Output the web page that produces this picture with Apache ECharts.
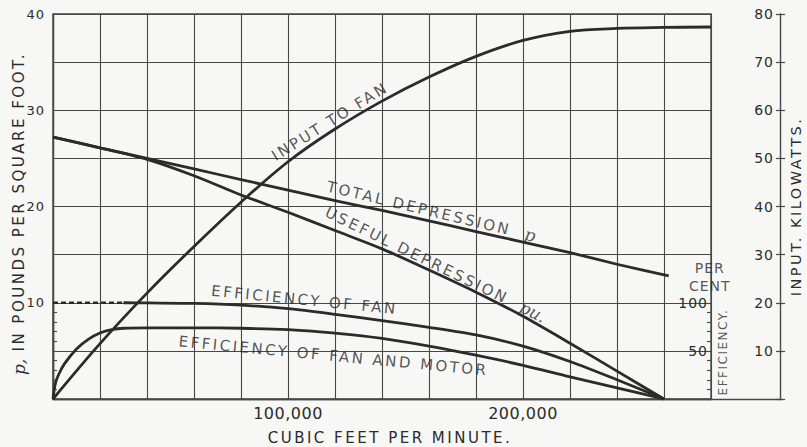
<!DOCTYPE html>
<html>
<head>
<meta charset="utf-8">
<script src="https://cdn.jsdelivr.net/npm/echarts@6/dist/echarts.min.js"></script>
<style>
  html, body { margin: 0; padding: 0; background: #f7f7f5; }
  #chart { width: 807px; height: 447px; }
</style>
</head>
<body>
<div id="chart"></div>
<script>
// Air delivered, cubic feet per minute, at which each curve is sampled
const flowInput = [0, 20000, 40000, 60000, 80000, 100000, 120000, 140000, 160000, 180000, 200000, 220000, 240000, 260000, 280000];
// Input to fan, kilowatts
const inputKw = [0, 11.5, 22, 31.7, 40.9, 49.3, 56.1, 61.9, 66.9, 71.2, 74.5, 76.4, 77, 77.2, 77.3];

const flowTotal = [0, 20000, 40000, 60000, 80000, 100000, 120000, 140000, 160000, 180000, 200000, 220000, 240000, 262000];
// Total depression p, pounds per square foot
const totalDepression = [27.2, 26.1, 25.0, 23.9, 22.8, 21.7, 20.6, 19.6, 18.5, 17.4, 16.3, 15.2, 14.0, 12.8];

const flowUseful = [0, 20000, 40000, 60000, 80000, 100000, 120000, 140000, 160000, 180000, 200000, 220000, 240000, 260000];
// Useful depression pu, pounds per square foot
const usefulDepression = [27.2, 26.1, 24.9, 23.2, 21.2, 19.4, 17.5, 15.6, 13.4, 11.1, 8.6, 5.8, 2.9, 0];

// Efficiency of fan, per cent (first stretch is drawn dashed)
const flowFanDashed = [0, 30000];
const fanEffDashed = [100, 100];
const flowFan = [30000, 40000, 60000, 80000, 100000, 120000, 140000, 160000, 180000, 200000, 220000, 240000, 260000];
const fanEff = [100, 99.8, 99.3, 97.5, 93.8, 88, 81.5, 74.5, 66.5, 55, 39, 20, 0];

// Efficiency of fan and motor, per cent
const flowMotor = [0, 1000, 2500, 5000, 10000, 15000, 20000, 25000, 30000, 40000, 60000, 80000, 100000, 120000, 140000, 160000, 180000, 200000, 220000, 240000, 260000];
const motorEff = [0, 16, 26, 37, 52, 62, 68.5, 72, 73.5, 74, 74, 73.5, 72, 68.5, 63, 55, 45.5, 35, 23, 11.5, 0];

// Tick labels
const flowTickLabels = [100000, 200000];
const pressureTickLabels = [10, 20, 30, 40];
const efficiencyTickLabels = [50, 100];

// Curve captions: text, anchor [cfm, lb per sq ft], angle
const captionText = ['INPUT TO FAN', 'TOTAL DEPRESSION  {i|p}', 'USEFUL DEPRESSION  {i|pu.}', 'EFFICIENCY OF FAN', 'EFFICIENCY OF FAN AND MOTOR'];
const captionAt = [[117900, 28.83], [161000, 19.5], [162800, 13.97], [107000, 10.29], [119400, 4.47]];
const captionAngle = [32, -13.5, -26, -5.7, -5.4];

const zip = (xs, ys) => xs.map((x, i) => [x, ys[i]]);

// Engraved lettering is widely tracked; spacing depends on the type size
const TRACKING = { 12: 1.5, 13: 1, 14: 1, 15: 2.5, 16: 0.5 };
const trackingFor = (px) => TRACKING[Math.round(px)] || 0;
const measureCtx = document.createElement('canvas').getContext('2d');
if (echarts.setPlatformAPI) {
  echarts.setPlatformAPI({
    measureText(text, font) {
      measureCtx.font = font || '12px sans-serif';
      const m = /(\d+(?:\.\d+)?)px/.exec(measureCtx.font);
      const size = m ? parseFloat(m[1]) : 12;
      const s = String(text == null ? '' : text);
      return { width: measureCtx.measureText(s).width + trackingFor(size) * s.length };
    }
  });
}

const ink = '#2b2b2b';
const rule = '#474747';
const face = 'DejaVu Sans';
const italicRich = { i: { fontFamily: 'DejaVu Serif', fontStyle: 'italic', fontSize: 17, color: ink } };

const curveStyle = { color: ink, width: 2.8 };
const lineBase = { type: 'line', symbol: 'none', showSymbol: false, clip: false, silent: true, z: 3 };

const dom = document.getElementById('chart');
const chart = echarts.init(dom, null, { renderer: 'svg' });

const option = {
  backgroundColor: '#f7f7f5',
  animation: false,
  textStyle: { fontFamily: face, color: ink },
  grid: [
    { left: 53, right: 96, top: 14, bottom: 48, outerBoundsMode: 'none', containLabel: false,
      show: true, borderColor: rule, borderWidth: 1.4 },
    { left: 53, right: 25, top: 14, bottom: 48, outerBoundsMode: 'none', containLabel: false },
    { left: 53, right: 96, top: 302.75, bottom: 48, outerBoundsMode: 'none', containLabel: false }
  ],
  xAxis: [
    {
      gridIndex: 0, type: 'value', min: 0, max: 280000, interval: 20000,
      axisLine: { show: true, lineStyle: { color: rule, width: 1.4 } },
      axisTick: { show: false },
      splitLine: { show: true, lineStyle: { color: rule, width: 1.1 } },
      axisLabel: {
        margin: 6, fontSize: 16, color: ink,
        formatter: v => flowTickLabels.includes(v) ? v.toLocaleString('en-US') : ''
      },
      name: 'CUBIC FEET PER MINUTE.', nameLocation: 'middle', nameGap: 30, nameMoveOverlap: false,
      nameTextStyle: { fontSize: 15, color: ink, padding: [0, 0, 0, 16] }
    },
    {
      gridIndex: 1, type: 'value', min: 0, max: 1,
      axisLine: { show: true, lineStyle: { color: rule, width: 1.4 } },
      axisTick: { show: false }, axisLabel: { show: false }, splitLine: { show: false }
    },
    { gridIndex: 2, type: 'value', min: 0, max: 280000, show: false }
  ],
  yAxis: [
    {
      gridIndex: 0, type: 'value', position: 'left', min: 0, max: 40, interval: 5,
      axisLine: { show: true, lineStyle: { color: rule, width: 1.4 } },
      axisTick: { show: false },
      splitLine: { show: true, lineStyle: { color: rule, width: 1.1 } },
      axisLabel: {
        margin: 8, fontSize: 13, color: ink,
        formatter: v => pressureTickLabels.includes(v) ? String(v) : ''
      },
      name: '{i|p,} IN POUNDS PER SQUARE FOOT.', nameLocation: 'middle', nameRotate: 90,
      nameGap: 25, nameMoveOverlap: false,
      nameTextStyle: { fontSize: 15, color: ink, padding: [0, 14, 0, 0], rich: italicRich }
    },
    {
      gridIndex: 0, type: 'value', position: 'right', offset: 69, min: 0, max: 80, interval: 10,
      axisLine: { show: true, lineStyle: { color: rule, width: 1.4 } },
      axisTick: { show: true, length: 5, lineStyle: { color: rule, width: 1.2 } },
      splitLine: { show: false },
      axisLabel: { inside: true, margin: 6, fontSize: 14, color: ink, formatter: v => v > 0 ? String(v) : '' },
      name: 'INPUT. KILOWATTS.', nameLocation: 'middle', nameRotate: 90, nameGap: 7, nameMoveOverlap: false,
      nameTextStyle: { fontSize: 14.5, color: ink }
    },
    {
      gridIndex: 0, type: 'value', position: 'right', offset: 69, min: 0, max: 80, interval: 10,
      axisLine: { show: false },
      axisTick: { show: true, inside: true, length: 4, lineStyle: { color: rule, width: 1.2 } },
      axisLabel: { show: false }, splitLine: { show: false }
    },
    { gridIndex: 1, type: 'value', show: false },
    {
      gridIndex: 2, type: 'value', position: 'right', offset: 0, min: 0, max: 100, interval: 10,
      axisLine: { show: true, lineStyle: { color: rule, width: 1.4 } },
      axisTick: { show: true, length: 4, lineStyle: { color: rule, width: 1.1 } },
      splitLine: { show: false },
      axisLabel: {
        inside: true, margin: 3, fontSize: 14, color: ink,
        formatter: v => efficiencyTickLabels.includes(v) ? String(v) : ''
      }
    },
    {
      gridIndex: 2, type: 'value', position: 'right', offset: 0, min: 0, max: 100, interval: 10,
      axisLine: { show: false },
      axisTick: { show: true, inside: true, length: 4, lineStyle: { color: rule, width: 1.1 } },
      axisLabel: { show: false }, splitLine: { show: false }
    }
  ],
  series: [
    Object.assign({}, lineBase, {
      name: 'Input to fan', xAxisIndex: 0, yAxisIndex: 1,
      data: zip(flowInput, inputKw), smooth: 0.35, lineStyle: curveStyle
    }),
    Object.assign({}, lineBase, {
      name: 'Total depression', xAxisIndex: 0, yAxisIndex: 0,
      data: zip(flowTotal, totalDepression), smooth: 0.2, lineStyle: curveStyle
    }),
    Object.assign({}, lineBase, {
      name: 'Useful depression', xAxisIndex: 0, yAxisIndex: 0,
      data: zip(flowUseful, usefulDepression), smooth: 0.3, lineStyle: curveStyle
    }),
    Object.assign({}, lineBase, {
      name: 'Efficiency of fan (dashed)', xAxisIndex: 2, yAxisIndex: 4,
      data: zip(flowFanDashed, fanEffDashed),
      lineStyle: { color: ink, width: 2.6, type: [5, 3] }
    }),
    Object.assign({}, lineBase, {
      name: 'Efficiency of fan', xAxisIndex: 2, yAxisIndex: 4,
      data: zip(flowFan, fanEff), smooth: 0.3, lineStyle: curveStyle
    }),
    Object.assign({}, lineBase, {
      name: 'Efficiency of fan and motor', xAxisIndex: 2, yAxisIndex: 4,
      data: zip(flowMotor, motorEff), smooth: 0.3, lineStyle: curveStyle
    }),
    {
      type: 'scatter', name: 'Captions', xAxisIndex: 0, yAxisIndex: 0,
      clip: false, silent: true, symbolSize: 1, z: 5,
      itemStyle: { color: 'transparent' },
      label: {
        show: true, position: 'inside', fontSize: 15, color: ink, fontFamily: face,
        rich: italicRich
      },
      data: captionText.map((t, i) => ({
        value: captionAt[i],
        label: { formatter: t, rotate: captionAngle[i] }
      })).concat([
        { value: [279500, 12.68], label: { formatter: 'PER\nCENT', fontSize: 14, lineHeight: 18 } },
        { value: [285100, 4.88], label: { formatter: 'EFFICIENCY.', fontSize: 12, rotate: 90 } }
      ])
    }
  ]
};

function applyTracking() {
  dom.querySelectorAll('text').forEach(t => {
    const size = parseFloat(getComputedStyle(t).fontSize);
    t.style.letterSpacing = trackingFor(size) + 'px';
  });
}
chart.on('finished', applyTracking);
chart.setOption(option);
applyTracking();
</script>
</body>
</html>
